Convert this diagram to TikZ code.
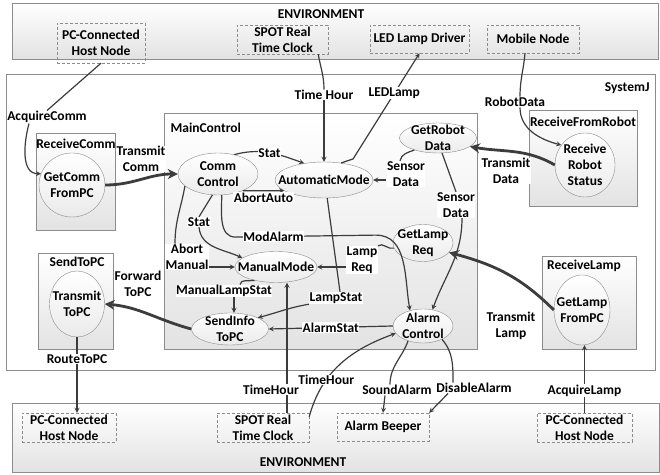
\documentclass[tikz,border=0pt]{standalone}
\usepackage{fontspec}
\setmainfont{Carlito}
\usetikzlibrary{shapes.geometric, arrows, arrows.meta, positioning, calc}
\definecolor{linegray}{HTML}{3C3C3C}
\definecolor{boxgray}{HTML}{8C8C8C}

\begin{document}
\begin{tikzpicture}[x=1pt, y=1pt, >=stealth, font=\bfseries\fontsize{13.5}{16}\selectfont,
	frame/.style={draw=boxgray, top color=white, bottom color=black!11},
	extnode/.style={draw=boxgray, dash pattern=on 3pt off 2pt, align=center, inner sep=1pt},
	proc/.style={ellipse, draw=boxgray, top color=white, bottom color=black!8, inner sep=0pt,
		label={[align=center]center:#1}},
	lbl/.style={fill=white, inner sep=0.5pt, align=center},
	wire/.style={draw=linegray, line width=1.2pt},
	flow/.style={wire, ->},
	bigflow/.style={draw=linegray, line width=2.8pt, -{Stealth[length=10pt, width=10pt]}}]
	\useasboundingbox (0,0) rectangle (660,474);
	% environment and component frames
	\draw[frame] (12,415) rectangle (658,471);
	\draw[frame] (12,2) rectangle (659,71);
	\draw[draw=boxgray, fill=white] (6,104) rectangle (655,400);
	\draw[frame] (164,125) rectangle (477,361);
	\draw[frame] (36,244) rectangle (115,341);
	\draw[frame] (38,125) rectangle (113,221);
	\draw[frame] (529,268) rectangle (637,364);
	\draw[frame] (542,125) rectangle (636,218);
	\node (envtop) at (321,460) {ENVIRONMENT};
	\node (envbot) at (303,12) {ENVIRONMENT};
	\node[anchor=east] (sysj) at (653,386) {SystemJ};
	\node[anchor=west] (mainctl) at (167,346) {MainControl};
	\node (recvcomm) at (76,330) {ReceiveComm};
	\node (sendpc) at (77,212) {SendToPC};
	\node (recvrobot) at (583,352) {ReceiveFromRobot};
	\node (recvlamp) at (584,208) {ReceiveLamp};

	% outside world
	\node[extnode, minimum width=88pt, minimum height=40pt] (pchost1) at (101,431) {PC-Connected\\Host Node};
	\node[extnode, minimum width=91pt, minimum height=29pt] (spot1) at (282.5,434.5) {SPOT Real\\Time Clock};
	\node[extnode, minimum width=99pt, minimum height=28pt] (led) at (419.5,435) {LED Lamp Driver};
	\node[extnode, minimum width=92pt, minimum height=28pt] (mobile) at (533,435) {Mobile Node};
	\node[extnode, minimum width=94pt, minimum height=29pt] (pchost2) at (69,46.5) {PC-Connected\\Host Node};
	\node[extnode, minimum width=92pt, minimum height=29pt] (spot2) at (263,46.5) {SPOT Real\\Time Clock};
	\node[extnode, minimum width=92pt, minimum height=28pt] (beeper) at (383,47) {Alarm Beeper};
	\node[extnode, minimum width=95pt, minimum height=29pt] (pchost3) at (584.5,46.5) {PC-Connected\\Host Node};

	% reactions
	\node[proc={GetComm\\FromPC}, minimum width=66pt, minimum height=64pt] (getcomm) at (72,289) {};
	\node[proc={Transmit\\ToPC}, minimum width=55pt, minimum height=66pt] (transmitpc) at (77,170) {};
	\node[proc={Receive\\Robot\\Status}, minimum width=60pt, minimum height=64pt] (robotstat) at (585,309) {};
	\node[proc={GetLamp\\FromPC}, minimum width=56pt, minimum height=70pt] (lampfrompc) at (582,164) {};
	\node[proc={Comm\\Control}, minimum width=80pt, minimum height=42pt] (commctrl) at (218,300) {};
	\node[proc={AutomaticMode}, minimum width=98pt, minimum height=36pt] (automode) at (324,294) {};
	\node[proc={GetRobot\\Data}, minimum width=77pt, minimum height=30pt] (getrobot) at (438,336) {};
	\node[proc={ManualMode}, minimum width=82pt, minimum height=31pt] (manual) at (276,207) {};
	\node[proc={GetLamp\\Req}, minimum width=60pt, minimum height=37pt] (getlampreq) at (423,231) {};
	\node[proc={SendInfo\\ToPC}, minimum width=77pt, minimum height=32pt] (sendinfo) at (230,145) {};
	\node[proc={Alarm\\Control}, minimum width=60pt, minimum height=34pt] (alarm) at (423,148) {};

	% signal names
	\node[lbl] (acqcomm) at (47,357) {AcquireComm};
	\node[lbl] (transcomm) at (141,315) {Transmit\\Comm};
	\node[lbl] (timehour1) at (324,379) {Time Hour};
	\node[lbl] (robotdata) at (515,372) {RobotData};
	\node[lbl] (transdata) at (506,303) {Transmit\\Data};
	\node[lbl] (translamp) at (511,148) {Transmit\\Lamp};
	\node[lbl] (fwdtopc) at (138,190) {Forward\\ToPC};
	\node[lbl] (stat2) at (199,252) {Stat};
	\node[lbl] (abortman) at (187,217) {Abort\\Manual};
	\node[lbl] (sensor1) at (406,300) {Sensor\\Data};
	\node[lbl] (sensor2) at (456,269) {Sensor\\Data};
	\node[lbl] (lampreq) at (362,214) {Lamp\\Req};
	\node[lbl] (lampstat) at (336,176) {LampStat};
	\node[lbl] (manlamp) at (224,183) {ManualLampStat};
	\node[lbl] (soundal) at (397,84) {SoundAlarm};
	\node[lbl] (disal) at (474,86) {DisableAlarm};

	% channels between clock domains
	\draw[bigflow] (getcomm.east) to[out=0,in=180] (commctrl.west);
	\draw[bigflow] (robotstat.west) to[out=150,in=-10] (getrobot.-15);
	\draw[bigflow] (lampfrompc.west) to[out=135,in=-15] (getlampreq.-20);
	\draw[bigflow] (sendinfo.west) to[out=165,in=-5] (transmitpc.east);

	% environment signals
	\draw[wire] (pchost1.south) -- (acqcomm.north);
	\draw[flow] ([xshift=-18pt]acqcomm.south) to[out=-105,in=180] (getcomm.160);
	\draw[wire] ([xshift=-10pt]spot1.south east) to[out=-80,in=90] (timehour1.north);
	\draw[flow] (timehour1.south) -- (automode.north);
	\draw[flow] (automode.45) -- ++(12,4) -- node[lbl, pos=0.62] (ledlamp) {LEDLamp} (led.south);
	\draw[wire] ([xshift=-8pt]mobile.south) to[out=-95,in=90] ([xshift=5pt]robotdata.north);
	\draw[flow] ([xshift=5pt]robotdata.south) to[out=-90,in=165] (robotstat.140);
	\draw[flow] (transmitpc.south) -- node[lbl, pos=0.29] (routepc) {RouteToPC} (transmitpc.south |- pchost2.north);
	\draw[flow] (pchost3.north) -- node[lbl, pos=0.33] (acqlamp) {AcquireLamp} (pchost3.north |- lampfrompc.south);
	\draw[flow] ([xshift=24pt]spot2.north) -- node[lbl, pos=0.18, xshift=-16pt] (timehour2) {TimeHour} ([xshift=24pt]spot2.north |- manual.south);
	\draw[flow] ([yshift=-4pt]spot2.north east) to[out=75,in=200] node[lbl, pos=0.32] (timehour3) {TimeHour} (alarm.-165);
	\draw[wire] (alarm.-135) to[out=-110,in=90] ([xshift=-7pt]soundal.north);
	\draw[flow] ([xshift=-12pt]soundal.south) -- (beeper.north);
	\draw[wire] (alarm.-35) to[out=-50,in=90] ([xshift=-21pt]disal.north);
	\draw[flow] ([xshift=-26pt]disal.south) -- (beeper.north east);

	% signals inside MainControl
	\draw[flow] (commctrl.50) to[out=15,in=160] node[lbl] (stat1) {Stat} (automode.140);
	\draw[flow] (commctrl.-34) -- node[lbl, below=1pt] (abortauto) {AbortAuto} (automode.195);
	\draw[wire] (commctrl.-105) -- (stat2.north);
	\draw[flow] (stat2.south) to[out=-85,in=155] (manual.165);
	\draw[wire] (commctrl.200) to[out=-100,in=90] ([xshift=-12pt]abortman.north);
	\draw[flow] (abortman.east |- manual.west) -- (manual.west);
	\draw[flow] (commctrl.-80) to[out=-90,in=180] ++(14,-42) -- node[lbl, pos=0.27] (modalarm) {ModAlarm} ++(140,2) to[out=0,in=100] (alarm.130);
	\draw[wire] (getrobot.-153) to[out=-160,in=80] ([xshift=-6pt]sensor1.north);
	\draw[flow] (sensor1.west |- automode.east) -- (automode.east);
	\draw[wire] (getrobot.-75) -- (sensor2.north);
	\draw[flow] ([xshift=6pt]sensor2.south) to[out=-90,in=70] (alarm.60);
	\draw[wire] (getlampreq.190) to[out=200,in=40] (lampreq.north east);
	\draw[flow] (lampreq.west |- manual.east) -- (manual.east);
	\draw[wire] (automode.-80) -- ([xshift=4pt]lampstat.north);
	\draw[flow] (lampstat.south west) to[out=190,in=15] (sendinfo.22);
	\draw[wire] (manual.-148) to[out=190,in=80] ([xshift=16pt]manlamp.north);
	\draw[flow] ([xshift=10pt]manlamp.south) -- ([xshift=10pt]manlamp.south |- sendinfo.north);
	\draw[flow] (alarm.west) -- node[lbl] (alarmstat) {AlarmStat} (sendinfo.east);
\end{tikzpicture}
\end{document}
